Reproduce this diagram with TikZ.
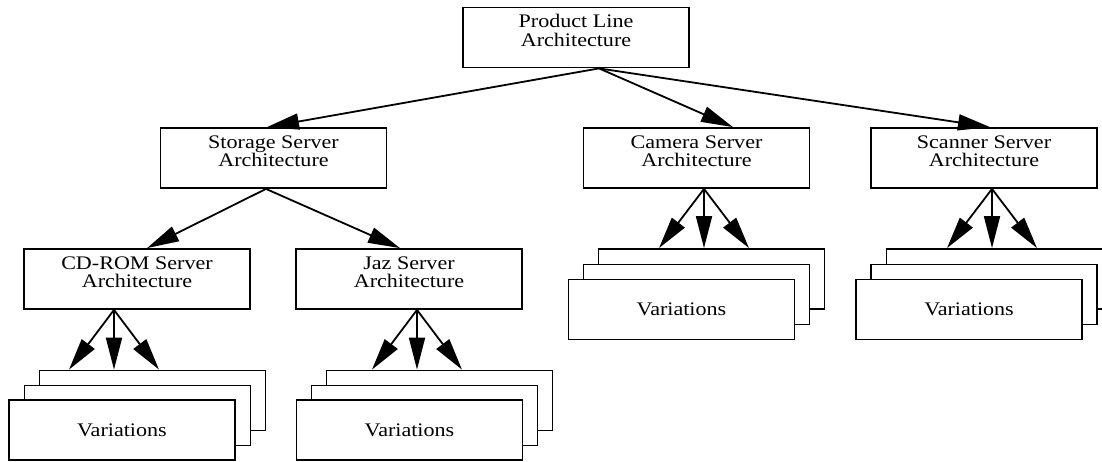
\documentclass[tikz,border=0pt]{standalone}
\usepackage{fontspec}
\setmainfont{Liberation Serif}[FakeStretch=1.15]
\usetikzlibrary{arrows.meta,positioning,calc}

\begin{document}
\begin{tikzpicture}[
    x=0.5pt, y=-0.5pt,
    font=\fontsize{9.6}{9.2}\selectfont,
    >={Triangle[length=16pt,width=8pt]},
    line width=0.9pt,
    vbox/.style={draw, fill=white, minimum width=113pt, minimum height=30pt, align=center, inner sep=0pt},
    abox/.style={vbox, text depth=7pt}
]
    \useasboundingbox (0,0) rectangle (1102,461);

    % Architecture boxes
        \node [abox] (plc) at (576,37.5) {Product Line\\Architecture};
        \node [abox] (storage) at (273.5,158) {Storage Server\\Architecture};
        \node [abox] (camera) at (696.5,158) {Camera Server\\Architecture};
        \node [abox] (scanner) at (984,158) {Scanner Server\\Architecture};
        \node [abox] (cdrom) at (137,279) {CD-ROM Server\\Architecture};
        \node [abox] (jaz) at (409,279) {Jaz Server\\Architecture};

    % Variation stacks (back to front)
        \node [vbox] (cdvarC) at (152.5,400.5) {};
        \node [vbox] (cdvarB) at (137.5,415.5) {};
        \node [vbox] (cdvar) at (122,430) {Variations};

        \node [vbox] (jazvarC) at (439.5,400.5) {};
        \node [vbox] (jazvarB) at (424.5,415.5) {};
        \node [vbox] (jazvar) at (409.5,430) {Variations};

        \node [vbox] (camvarC) at (711.5,279) {};
        \node [vbox] (camvarB) at (696.5,294.5) {};
        \node [vbox] (camvar) at (681.5,309.5) {Variations};

        \node [vbox] (scanvarC) at (999.5,279) {};
        \node [vbox] (scanvarB) at (984,294.5) {};
        \node [vbox] (scanvar) at (969,309.5) {Variations};

    % Start points of the arrows
        \coordinate (plc-out) at ($(plc.south)+(23,0)$);
        \coordinate (storage-out) at ($(storage.south)+(-7.5,0)$);
        \coordinate (camera-out) at ($(camera.south)+(7.5,0)$);
        \coordinate (scanner-out) at ($(scanner.south)+(8,0)$);
        \coordinate (cdrom-out) at ($(cdrom.south)+(-23,0)$);
        \coordinate (jaz-out) at ($(jaz.south)+(8,0)$);

    % Arrows
        \draw[->] (plc-out) -- ($(storage.north)+(-6.5,0)$);
        \draw[->] (plc-out) -- ($(camera.north)+(36.5,0)$);
        \draw[->] (plc-out) -- ($(scanner.north)+(6,0)$);
        \draw[->] (storage-out) -- ($(cdrom.north)+(10,0)$);
        \draw[->] (storage-out) -- ($(jaz.north)+(-9,0)$);

        \draw[->] (cdrom-out) -- ($(cdrom-out |- cdvarC.north)+(-45,0)$);
        \draw[->] (cdrom-out) -- (cdrom-out |- cdvarC.north);
        \draw[->] (cdrom-out) -- ($(cdrom-out |- cdvarC.north)+(45,0)$);

        \draw[->] (jaz-out) -- ($(jaz-out |- jazvarC.north)+(-45,0)$);
        \draw[->] (jaz-out) -- (jaz-out |- jazvarC.north);
        \draw[->] (jaz-out) -- ($(jaz-out |- jazvarC.north)+(45,0)$);

        \draw[->] (camera-out) -- ($(camera-out |- camvarC.north)+(-45,0)$);
        \draw[->] (camera-out) -- (camera-out |- camvarC.north);
        \draw[->] (camera-out) -- ($(camera-out |- camvarC.north)+(45,0)$);

        \draw[->] (scanner-out) -- ($(scanner-out |- scanvarC.north)+(-45,0)$);
        \draw[->] (scanner-out) -- (scanner-out |- scanvarC.north);
        \draw[->] (scanner-out) -- ($(scanner-out |- scanvarC.north)+(45,0)$);
\end{tikzpicture}
\end{document}
